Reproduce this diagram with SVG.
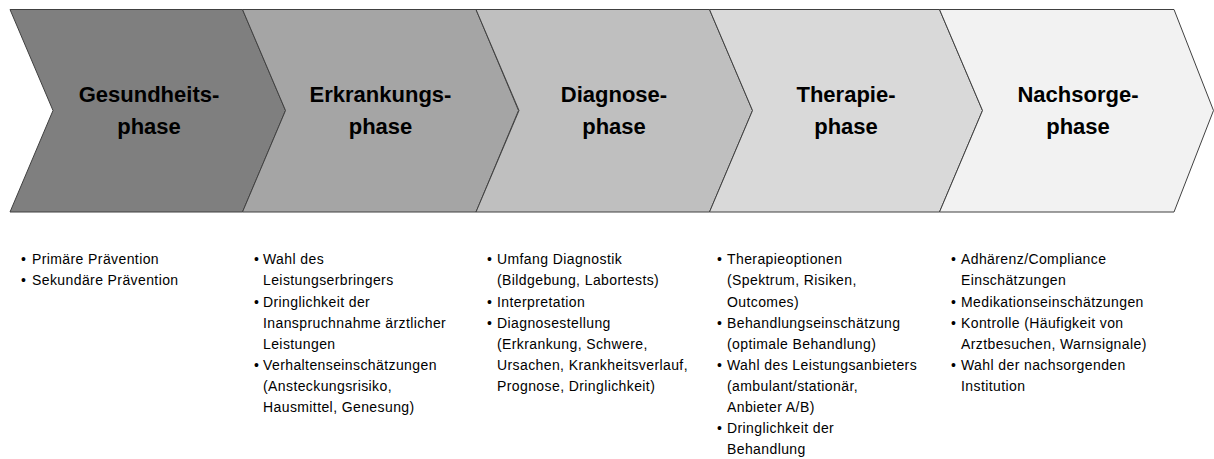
<svg xmlns="http://www.w3.org/2000/svg" width="1214" height="459" viewBox="0 0 1214 459">
<style>
.chev{stroke:#404040;stroke-width:1;stroke-linejoin:miter}
.title{font-family:"Liberation Sans",Arial,sans-serif;font-weight:bold;font-size:22px;fill:#000;text-anchor:middle}
.body{font-family:"Liberation Sans",Arial,sans-serif;font-size:14px;fill:#000;letter-spacing:0.4px}
</style>
<rect width="1214" height="459" fill="#ffffff"/>
<g id="phase-gesundheit">
<polygon class="chev" fill="#7f7f7f" points="10,9.5 242.5,9.5 285.5,110.5 242.5,212 10,212 53,110.5"/>
<text class="title" x="149" y="102">Gesundheits-</text>
<text class="title" x="149" y="134">phase</text>
</g>
<g id="phase-erkrankung">
<polygon class="chev" fill="#a5a5a5" points="242.5,9.5 476,9.5 518.5,110.5 476,212 242.5,212 285.5,110.5"/>
<text class="title" x="380.5" y="102">Erkrankungs-</text>
<text class="title" x="380.5" y="134">phase</text>
</g>
<g id="phase-diagnose">
<polygon class="chev" fill="#bfbfbf" points="476,9.5 709.5,9.5 752.5,110.5 709.5,212 476,212 519,110.5"/>
<text class="title" x="614" y="102">Diagnose-</text>
<text class="title" x="614" y="134">phase</text>
</g>
<g id="phase-therapie">
<polygon class="chev" fill="#d9d9d9" points="709.5,9.5 939.5,9.5 982.5,110.5 939.5,212 709.5,212 752.5,110.5"/>
<text class="title" x="846" y="102">Therapie-</text>
<text class="title" x="846" y="134">phase</text>
</g>
<g id="phase-nachsorge">
<polygon class="chev" fill="#f2f2f2" points="939.5,9.5 1174,9.5 1213.5,110.5 1174,212 939.5,212 982.5,110.5"/>
<text class="title" x="1078" y="102">Nachsorge-</text>
<text class="title" x="1078" y="134">phase</text>
</g>
<g id="connectors"></g>
<g id="list-gesundheit" class="body">
<text x="21" y="264">•</text><text x="32" y="264">Primäre Prävention</text>
<text x="21" y="285">•</text><text x="32" y="285">Sekundäre Prävention</text>
</g>
<g id="list-erkrankung" class="body">
<text x="254" y="264">•</text><text x="263" y="264">Wahl des</text>
<text x="263" y="285">Leistungserbringers</text>
<text x="254" y="306.5">•</text><text x="263" y="306.5">Dringlichkeit der</text>
<text x="263" y="327.5">Inanspruchnahme ärztlicher</text>
<text x="263" y="348.5">Leistungen</text>
<text x="254" y="369.5">•</text><text x="263" y="369.5">Verhaltenseinschätzungen</text>
<text x="263" y="390.5">(Ansteckungsrisiko,</text>
<text x="263" y="411.5">Hausmittel, Genesung)</text>
</g>
<g id="list-diagnose" class="body">
<text x="487" y="264">•</text><text x="497" y="264">Umfang Diagnostik</text>
<text x="497" y="285">(Bildgebung, Labortests)</text>
<text x="487" y="306.5">•</text><text x="497" y="306.5">Interpretation</text>
<text x="487" y="327.5">•</text><text x="497" y="327.5">Diagnosestellung</text>
<text x="497" y="348.5">(Erkrankung, Schwere,</text>
<text x="497" y="369.5">Ursachen, Krankheitsverlauf,</text>
<text x="497" y="390.5">Prognose, Dringlichkeit)</text>
</g>
<g id="list-therapie" class="body">
<text x="717" y="264">•</text><text x="727" y="264">Therapieoptionen</text>
<text x="727" y="285">(Spektrum, Risiken,</text>
<text x="727" y="306.5">Outcomes)</text>
<text x="717" y="327.5">•</text><text x="727" y="327.5">Behandlungseinschätzung</text>
<text x="727" y="348.5">(optimale Behandlung)</text>
<text x="717" y="369.5">•</text><text x="727" y="369.5">Wahl des Leistungsanbieters</text>
<text x="727" y="390.5">(ambulant/stationär,</text>
<text x="727" y="411.5">Anbieter A/B)</text>
<text x="717" y="432.5">•</text><text x="727" y="432.5">Dringlichkeit der</text>
<text x="727" y="453.5">Behandlung</text>
</g>
<g id="list-nachsorge" class="body">
<text x="951" y="264">•</text><text x="961" y="264">Adhärenz/Compliance</text>
<text x="961" y="285">Einschätzungen</text>
<text x="951" y="306.5">•</text><text x="961" y="306.5">Medikationseinschätzungen</text>
<text x="951" y="327.5">•</text><text x="961" y="327.5">Kontrolle (Häufigkeit von</text>
<text x="961" y="348.5">Arztbesuchen, Warnsignale)</text>
<text x="951" y="369.5">•</text><text x="961" y="369.5">Wahl der nachsorgenden</text>
<text x="961" y="390.5">Institution</text>
</g>
</svg>
